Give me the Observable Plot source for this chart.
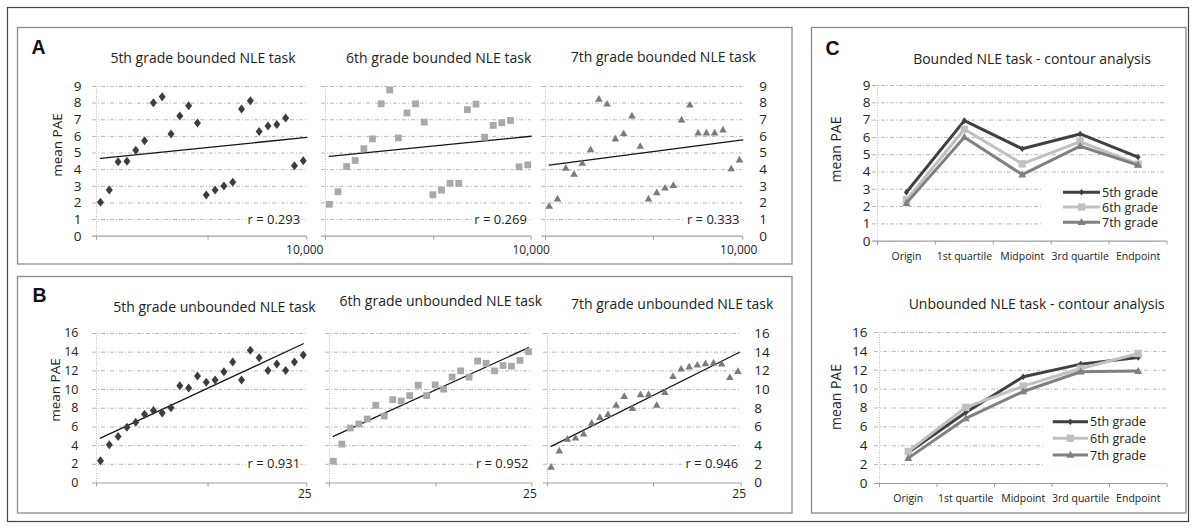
<!DOCTYPE html>
<html><head><meta charset="utf-8">
<script src="https://cdn.jsdelivr.net/npm/d3@7"></script>
<script src="https://cdn.jsdelivr.net/npm/@observablehq/plot@0.6"></script>
<style>
html,body{margin:0;padding:0;background:#fff;}
#root{position:relative;width:1195px;height:528px;overflow:hidden;background:#fff;}
</style></head><body><div id="root"></div>
<script>
// ---------- DATA ----------
const items = [1,2,3,4,5,6,7,8,9,10,11,12,13,14,15,16,17,18,19,20,21,22,23,24];
const boundedG5 = [2.04,2.78,4.48,4.5,5.16,5.74,8.02,8.38,6.14,7.22,7.84,6.8,2.48,2.78,3.02,3.24,7.64,8.14,6.3,6.62,6.72,7.1,4.24,4.54];
const boundedG6 = [1.92,2.67,4.19,4.55,5.26,5.85,7.96,8.79,5.91,7.41,7.96,6.86,2.49,2.77,3.18,3.18,7.61,7.94,5.95,6.66,6.82,6.96,4.17,4.29];
const boundedG7 = [1.81,2.25,4.1,3.74,4.39,5.21,8.25,7.95,5.86,6.18,7.24,5.41,2.25,2.62,2.9,3.06,7.0,7.89,6.22,6.22,6.22,6.4,4.06,4.59];
const unboundedG5 = [2.38,4.09,4.98,5.97,6.51,7.36,7.75,7.5,8.04,10.42,10.17,11.45,10.77,11.02,11.91,12.94,11.02,14.22,13.4,12.05,12.73,12.05,12.94,13.69];
const unboundedG6 = [2.33,4.16,5.88,6.31,6.85,8.32,7.17,8.92,8.78,9.35,10.47,9.35,10.5,10.04,11.33,12.0,11.33,13.05,12.8,12.0,12.58,12.51,13.12,14.05];
const unboundedG7 = [1.7,3.44,4.71,4.82,5.25,6.41,7.03,7.36,8.33,9.28,8.0,9.46,9.46,8.33,9.71,11.41,12.21,12.43,12.64,12.79,12.86,12.75,11.3,11.96];

// trend lines (start/end)
const trendBoundedG5 = {x:[1,24.4], y:[4.68,5.94]};
const trendBoundedG6 = {x:[1,24.4], y:[4.8,6.01]};
const trendBoundedG7 = {x:[1,24.4], y:[4.27,5.79]};
const trendUnboundedG5 = {x:[1,24], y:[4.8,14.9]};
const trendUnboundedG6 = {x:[1,24], y:[4.98,14.48]};
const trendUnboundedG7 = {x:[1,24.2], y:[3.91,13.99]};

const rBounded = ["r = 0.293","r = 0.269","r = 0.333"];
const rUnbounded = ["r = 0.931","r = 0.952","r = 0.946"];

const xDomain = [0.55, 24.4];
const xTicksCols = [[0.55,13.2,24.4],[0.55,13.1,24.4],[0.55,13.6,24.4]];
const xLabelsBounded = ["","","10,000"];
const xLabelsUnbounded = ["","","25"];
const yTicksBounded = [0,1,2,3,4,5,6,7,8,9];
const yTicksUnbounded = [0,2,4,6,8,10,12,14,16];

const titlesBounded = ["5th grade bounded NLE task","6th grade bounded NLE task","7th grade bounded NLE task"];
const titlesUnbounded = ["5th grade unbounded NLE task","6th grade unbounded NLE task","7th grade unbounded NLE task"];

const contourCats = ["Origin","1st quartile","Midpoint","3rd quartile","Endpoint"];
const contourIdx = [0,1,2,3,4];
const contourBounds = [-0.5,0.5,1.5,2.5,3.5,4.5];
const contourBoundedG5 = [2.83,6.97,5.34,6.2,4.86];
const contourBoundedG6 = [2.39,6.47,4.47,5.76,4.45];
const contourBoundedG7 = [2.2,6.01,3.85,5.49,4.4];
const contourUnboundedG5 = [3.29,7.53,11.31,12.65,13.36];
const contourUnboundedG6 = [3.39,8.06,10.32,12.19,13.78];
const contourUnboundedG7 = [2.69,6.89,9.75,11.84,11.91];
const contourTitles = ["Bounded NLE task - contour analysis","Unbounded NLE task - contour analysis"];
const gradeLabels = ["5th grade","6th grade","7th grade"];
const yLabel = "mean PAE";
const panelLetters = ["A","B","C"];

// ---------- STYLE ----------
const FONT = '"Open Sans","Noto Sans","DejaVu Sans",sans-serif';
const TXT = "#222";
const AXIS = "#a0a0a0";
const GRID = {stroke:"#b8b8b8", strokeOpacity:1, strokeWidth:1, strokeDasharray:"4,2,1,2"};
const dotColors = ["#3d3d3d","#a9a9a9","#7b7b7b"];
const lineColors = ["#404040","#c0c0c0","#808080"];

const diamondSym = {draw(ctx,size){const r=Math.sqrt(size/Math.PI);const h=r,w=r*0.78;ctx.moveTo(0,-h);ctx.lineTo(w,0);ctx.lineTo(0,h);ctx.lineTo(-w,0);ctx.closePath();}};
const squareSym = {draw(ctx,size){const r=Math.sqrt(size/Math.PI);ctx.rect(-r,-r,2*r,2*r);}};
const triangleSym = {draw(ctx,size){const r=Math.sqrt(size/Math.PI);const h=r*1.75;ctx.moveTo(0,-h*0.6);ctx.lineTo(r,h*0.4);ctx.lineTo(-r,h*0.4);ctx.closePath();}};
const symbols = [diamondSym, squareSym, triangleSym];
const dotR = [4.5, 3.4, 3.8];
const lineDotR = [3.3, 3.7, 4.0];

const root = document.getElementById("root");
function mount(svg, left, top){
  svg.style.position="absolute"; svg.style.left=left+"px"; svg.style.top=top+"px"; svg.style.overflow="visible";
  root.appendChild(svg);
}

function scatter(c){
  const mL=50,mR=50,mT=12,mB=30;
  const fw=c.fx1-c.fx0, fh=c.fy1-c.fy0;
  const ext = 4/(fw/(xDomain[1]-xDomain[0]));
  const pts = c.values.map((v,i)=>({item:items[i], v}));
  const trend = c.trend.x.map((x,i)=>({x, y:c.trend.y[i]}));
  const xl = new Map(c.xTicks.map((t,i)=>[t, c.xLabels[i]]));
  const marks = [
    Plot.ruleY(c.yTicks.filter(d=>d>0), {y:d=>d, x1:xDomain[0]-ext, x2:xDomain[1], ...GRID}),
    Plot.ruleX([xDomain[0]], {stroke:"#bcbcbc", strokeDasharray:"1,1.5"}),
    Plot.ruleY([0], {y:d=>d, x1:xDomain[0]-ext, x2:xDomain[1], stroke:AXIS, strokeWidth:1.2}),
    Plot.axisX(c.xTicks, {tickSize:4, stroke:AXIS, tickFormat:()=>"", label:null}),
    Plot.axisX(c.xTicks, {tickSize:0, tickPadding:4+c.xPad, dx:c.xdx, fill:TXT, fontSize:12, tickFormat:d=>xl.get(d), label:null})
  ];
  if (c.yAnchor) marks.push(Plot.axisY(c.yTicks, {anchor:c.yAnchor, tickSize:0, tickPadding:c.yPad, fill:TXT, fontSize:c.yFont, label:null}));
  marks.push(
    Plot.text([{x:xDomain[1], y:c.rY, t:c.rText}], {x:"x", y:"y", text:"t", textAnchor:"end", dx:c.rdx, fill:TXT, stroke:"white", strokeWidth:6, fontSize:13}),
    Plot.line(trend, {x:"x", y:"y", stroke:"#151515", strokeWidth:1.3}),
    Plot.dot(pts, {x:"item", y:"v", symbol:c.symbol, r:c.r, fill:c.color})
  );
  const svg = Plot.plot({
    width:mL+fw+mR, height:mT+fh+mB, marginLeft:mL, marginRight:mR, marginTop:mT, marginBottom:mB,
    x:{domain:xDomain, axis:null}, y:{domain:[0,c.yTicks[c.yTicks.length-1]], axis:null},
    style:{fontFamily:FONT, background:"transparent", overflow:"visible"},
    marks
  });
  mount(svg, c.fx0-mL, c.fy0-mT);
}

function contour(c){
  const mL=50,mR=40,mT=12,mB=30;
  const fw=c.fx1-c.fx0, fh=c.fy1-c.fy0;
  const xd=[-0.5,4.5];
  const ext = 5/(fw/5);
  const marks = [
    Plot.ruleY(c.yTicks.filter(d=>d>0), {y:d=>d, x1:xd[0]-ext, x2:xd[1], ...GRID}),
    Plot.ruleX([xd[0]], {stroke:"#bcbcbc", strokeDasharray:"1,1.5"}),
    Plot.ruleY([0], {y:d=>d, x1:xd[0]-ext, x2:xd[1], stroke:AXIS, strokeWidth:1.2}),
    Plot.axisX(contourBounds, {tickSize:4, stroke:AXIS, tickFormat:()=>"", label:null}),
    Plot.axisX(contourIdx, {tickSize:0, tickPadding:11.5, fill:TXT, fontSize:10.5, tickFormat:i=>contourCats[i], label:null}),
    Plot.axisY(c.yTicks, {tickSize:0, tickPadding:c.yPad, fill:TXT, fontSize:13.5, label:null})
  ];
  c.series.forEach((vals,k)=>{
    marks.push(Plot.line(contourIdx, {x:i=>i, y:i=>vals[i], stroke:lineColors[k], strokeWidth:3}));
    marks.push(Plot.dot(contourIdx, {x:i=>i, y:i=>vals[i], symbol:symbols[k], r:lineDotR[k], fill:lineColors[k]}));
  });
  const svg = Plot.plot({
    width:mL+fw+mR, height:mT+fh+mB, marginLeft:mL, marginRight:mR, marginTop:mT, marginBottom:mB,
    x:{domain:xd, axis:null}, y:{domain:[0,c.yTicks[c.yTicks.length-1]], axis:null},
    style:{fontFamily:FONT, background:"transparent", overflow:"visible"},
    marks
  });
  mount(svg, c.fx0-mL, c.fy0-mT);
}

// ---------- PANELS ----------
const colA = [[95.7,306],[325.3,531],[545,742.3]];
const colB = [[95.7,306],[329.3,531.7],[547.3,741]];
const rdxA = [-6.7,-4.3,-3.3], rdxB = [-6.7,-3.4,-3];
const bVals = [boundedG5,boundedG6,boundedG7], uVals = [unboundedG5,unboundedG6,unboundedG7];
const bTr = [trendBoundedG5,trendBoundedG6,trendBoundedG7], uTr = [trendUnboundedG5,trendUnboundedG6,trendUnboundedG7];
const anchors = ["left",null,"right"];
const padA = [15,0,16.5], padB = [18,0,13];
const fontB = [12.5,12.5,13.5];
const xdxA = [-2,0,-4];

for (let k=0;k<3;k++){
  scatter({fx0:colA[k][0], fx1:colA[k][1], fy0:86.3, fy1:236, values:bVals[k], trend:bTr[k],
    yTicks:yTicksBounded, yAnchor:anchors[k], yPad:padA[k], yFont:13.5,
    xTicks:xTicksCols[k], xLabels:xLabelsBounded, xPad:5, xdx:xdxA[k], rY:1, rText:rBounded[k], rdx:rdxA[k],
    symbol:symbols[k], r:dotR[k], color:dotColors[k]});
  scatter({fx0:colB[k][0], fx1:colB[k][1], fy0:332.5, fy1:482, values:uVals[k], trend:uTr[k],
    yTicks:yTicksUnbounded, yAnchor:anchors[k], yPad:padB[k], yFont:fontB[k],
    xTicks:xTicksCols[k], xLabels:xLabelsUnbounded, xPad:2.3, xdx:-2, rY:2, rText:rUnbounded[k], rdx:rdxB[k],
    symbol:symbols[k], r:dotR[k], color:dotColors[k]});
}
contour({fx0:877, fx1:1166.5, fy0:85, fy1:240.7, yTicks:yTicksBounded, yPad:7,
  series:[contourBoundedG5,contourBoundedG6,contourBoundedG7]});
contour({fx0:879, fx1:1166.5, fy0:331.7, fy1:482.7, yTicks:yTicksUnbounded, yPad:12,
  series:[contourUnboundedG5,contourUnboundedG6,contourUnboundedG7]});

// ---------- OVERLAY (frames, titles, labels, legends) ----------
const ov = d3.select(root).append("svg").attr("width",1195).attr("height",528)
  .style("position","absolute").style("left","0px").style("top","0px").style("font-family",FONT);
ov.append("rect").attr("x",7.5).attr("y",7.5).attr("width",1181).attr("height",514).attr("fill","none").attr("stroke","#444").attr("stroke-width",1.2);
[[17.5,27.5,774.5,236.5],[17.5,276.5,774.5,236.5],[811.5,27.5,374.5,485.5]].forEach(b=>{
  ov.append("rect").attr("x",b[0]).attr("y",b[1]).attr("width",b[2]).attr("height",b[3]).attr("fill","none").attr("stroke","#8a8a8a").attr("stroke-width",1.3);
});
[[31.5,53.5],[32.5,302],[825.5,55]].forEach((p,i)=>{
  ov.append("text").attr("x",p[0]).attr("y",p[1]).text(panelLetters[i])
    .attr("font-family",'"Liberation Sans",Arial,sans-serif').attr("font-weight","bold").attr("font-size",19.5).attr("fill","#111");
});
const titlePos = [[203,63],[438.7,62.5],[663.3,61.7],[214.5,312],[440.8,306],[672.2,309],[1032,64],[1036.7,309]];
const allTitles = [...titlesBounded, ...titlesUnbounded, ...contourTitles];
allTitles.forEach((t,i)=>{
  ov.append("text").attr("x",titlePos[i][0]).attr("y",titlePos[i][1]).attr("text-anchor","middle")
    .attr("font-size",14).attr("fill",TXT).text(t);
});
[[56.7,145,13.5],[55,390,13.5],[835,149.5,14],[835,397,14]].forEach(p=>{
  ov.append("text").attr("transform",`translate(${p[0]},${p[1]}) rotate(-90)`).attr("text-anchor","middle")
    .attr("dominant-baseline","central").attr("font-size",p[2]).attr("fill",TXT).text(yLabel);
});
function symPath(sym,r){const p=d3.path();sym.draw(p,r*r*Math.PI);return p.toString();}
function legend(bg, x0, x1, rows){
  ov.append("rect").attr("x",bg[0]).attr("y",bg[1]).attr("width",bg[2]).attr("height",bg[3]).attr("fill","white");
  gradeLabels.forEach((g,k)=>{
    const y=rows[k];
    ov.append("line").attr("x1",x0).attr("x2",x1).attr("y1",y).attr("y2",y).attr("stroke",lineColors[k]).attr("stroke-width",3);
    ov.append("path").attr("d",symPath(symbols[k],lineDotR[k])).attr("transform",`translate(${(x0+x1)/2},${y})`).attr("fill",lineColors[k]);
    ov.append("text").attr("x",x1+2).attr("y",y).attr("dominant-baseline","central").attr("font-size",12.5).attr("fill",TXT).text(g);
  });
}
legend([1042,184,130,47], 1063, 1100, [192.3,207,222.3]);
legend([1043,411,130,54], 1052.7, 1088, [421.7,438.3,455]);
</script></body></html>
